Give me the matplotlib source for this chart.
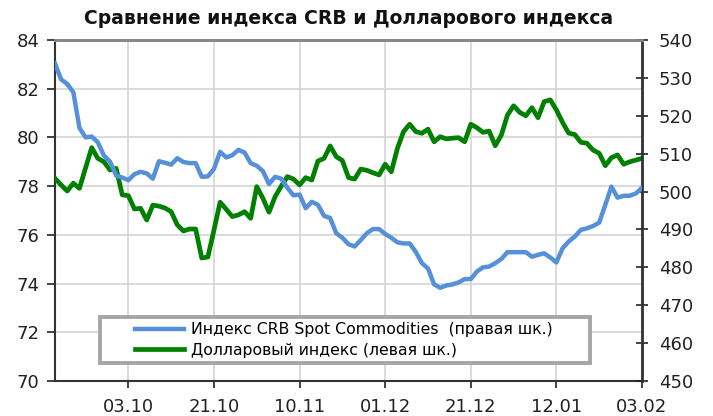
import matplotlib
matplotlib.use("Agg")
import matplotlib.pyplot as plt
from matplotlib.patches import Rectangle

# Dollar index (left axis)
dollar = [78.32, 78.05, 77.80, 78.12, 77.91, 78.75, 79.58, 79.14, 79.00, 78.66,
          78.73, 77.64, 77.61, 77.06, 77.09, 76.61, 77.22, 77.18, 77.10, 76.95,
          76.41, 76.16, 76.24, 76.24, 75.05, 75.09, 76.20, 77.34, 77.05, 76.75,
          76.82, 76.95, 76.68, 77.98, 77.50, 76.93, 77.57, 78.00, 78.39, 78.29,
          78.05, 78.35, 78.25, 79.03, 79.14, 79.65, 79.21, 79.05, 78.35, 78.29,
          78.70, 78.65, 78.55, 78.46, 78.90, 78.59, 79.55, 80.24, 80.54, 80.24,
          80.17, 80.34, 79.82, 80.03, 79.94, 79.97, 79.99, 79.82, 80.54, 80.40,
          80.21, 80.26, 79.66, 80.10, 80.92, 81.30, 81.03, 80.89, 81.22, 80.81,
          81.47, 81.54, 81.13, 80.62, 80.18, 80.12, 79.80, 79.76, 79.48, 79.35,
          78.84, 79.17, 79.28, 78.90, 79.00, 79.07, 79.14]

# CRB Spot Commodities index (right axis)
crb = [533.8, 529.6, 528.4, 526.2, 516.8, 514.3, 514.5, 513.0, 509.5, 507.9,
       504.2, 503.7, 503.0, 504.6, 505.2, 504.8, 503.4, 508.0, 507.6, 507.1,
       508.8, 507.8, 507.5, 507.5, 503.9, 504.0, 506.0, 510.5, 509.0, 509.6,
       511.0, 510.3, 507.5, 506.8, 505.4, 502.0, 503.9, 503.4, 501.0, 499.0,
       499.2, 495.6, 497.3, 496.5, 493.6, 493.0, 489.0, 487.8, 486.1, 485.5,
       487.2, 489.0, 490.1, 490.1, 488.8, 487.8, 486.6, 486.3, 486.3, 484.1,
       481.1, 479.7, 475.5, 474.6, 475.2, 475.5, 476.0, 476.9, 476.9, 478.9,
       480.0, 480.2, 481.1, 482.2, 484.0, 484.0, 484.0, 484.0, 482.8, 483.3,
       483.7, 482.6, 481.3, 485.0, 486.8, 488.1, 489.9, 490.3, 490.9, 491.8,
       496.5, 501.3, 498.4, 498.9, 498.9, 499.5, 501.0]

tick_pos = [12, 26, 40, 54, 68, 82, 96]
tick_labels = ["03.10", "21.10", "10.11", "01.12", "21.12", "12.01", "03.02"]

title = "Сравнение индекса CRB и Долларового индекса"
label_crb = "Индекс CRB Spot Commodities  (правая шк.)"
label_dollar = "Долларовый индекс (левая шк.)"

plt.rcParams['font.family'] = ['DejaVu Sans']

fig = plt.figure(figsize=(7.13, 4.16), dpi=100)
ax = fig.add_axes([55/713, 35/416, 587/713, 341/416])
ax2 = ax.twinx()

x = list(range(len(dollar)))
ln_d, = ax.plot(x, dollar, color="#008000", lw=3.4, solid_joinstyle="round", zorder=3)
ln_c, = ax2.plot(x, crb, color="#5590D9", lw=3.2, solid_joinstyle="round", zorder=3)

ax.set_xlim(0, 96)
ax.set_ylim(70, 84)
ax2.set_ylim(450, 540)
ax.set_yticks(range(70, 85, 2))
ax2.set_yticks(range(450, 541, 10))
ax.set_xticks(tick_pos)
ax.set_xticklabels(tick_labels)

ax.grid(True, color="#d4d4d4", lw=1.2)
ax.set_axisbelow(True)

ax.tick_params(axis="y", direction="out", length=6, width=1.2, labelsize=13, pad=5, colors="#222222")
ax.tick_params(axis="x", direction="out", length=5, width=1.2, labelsize=13, pad=7, colors="#222222")
ax2.tick_params(axis="y", direction="inout", length=8, width=1.2, labelsize=13, pad=8, colors="#222222")

for sp in ["left", "bottom"]:
    ax.spines[sp].set_color("#333333")
    ax.spines[sp].set_linewidth(1.5)
ax2.spines["right"].set_color("#333333")
ax2.spines["right"].set_linewidth(2.0)
ax2.spines["left"].set_visible(False)
ax2.spines["bottom"].set_visible(False)
ax.spines["right"].set_visible(False)
for a in (ax, ax2):
    a.spines["top"].set_color("#888888")
    a.spines["top"].set_linewidth(2.0)

fig.text((55 + 642) / 2 / 713, 1 - 18 / 416, title, ha="center", va="center",
         fontsize=13.5, fontweight="bold", color="#111111")

# legend frame
rect = Rectangle((45/587, 18/341), 490/587, 46/341, transform=ax2.transAxes,
                 facecolor="white", edgecolor="#a6a6a6", lw=2.8, zorder=5)
ax2.add_patch(rect)
leg = ax2.legend([ln_c, ln_d], [label_crb, label_dollar], loc="center left",
                 bbox_to_anchor=(80/587, 41/341), frameon=False, fontsize=11.3,
                 handlelength=3.1, handletextpad=0.45, labelspacing=0.34,
                 borderpad=0, borderaxespad=0)
leg.set_zorder(6)

fig.savefig("out.png", dpi=100)
